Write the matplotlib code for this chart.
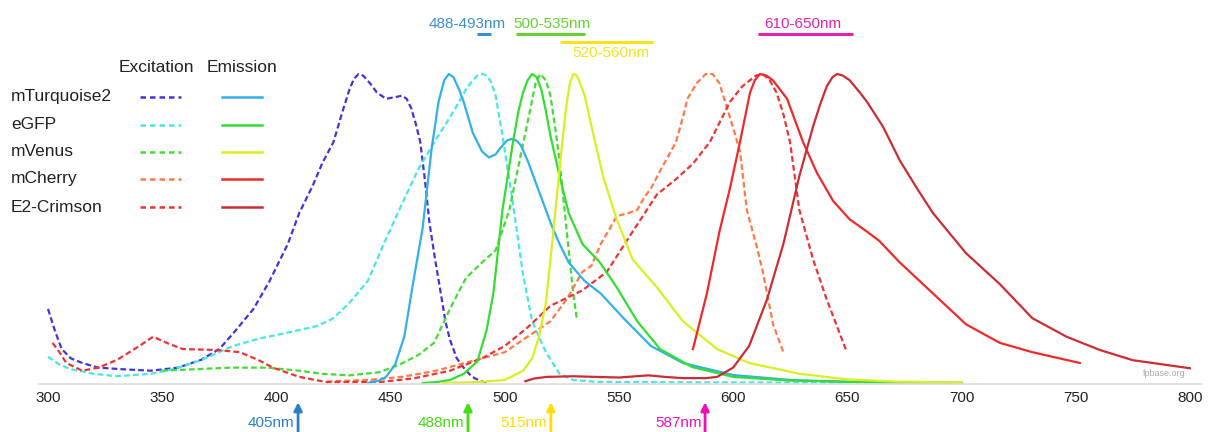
import matplotlib
matplotlib.use("Agg")
import matplotlib.pyplot as plt

plt.rcParams['font.family'] = ['Liberation Sans', 'DejaVu Sans']

# spectra (wavelength nm, normalised intensity)
mturq_ex_wl = [300, 303, 306, 310, 315, 322, 332, 345, 357, 367, 375, 381, 390, 397, 405, 410, 416, 420, 425,
               429, 432, 434, 436, 438, 441, 444, 448, 452, 455, 457, 459, 461, 463, 465, 467, 469.5, 472, 474,
               476, 479, 482, 485, 487, 490, 493]
mturq_ex = [0.24, 0.17, 0.11, 0.08, 0.065, 0.05, 0.045, 0.04, 0.05, 0.075, 0.11, 0.16, 0.24, 0.33, 0.45, 0.55,
            0.64, 0.71, 0.78, 0.88, 0.95, 0.985, 1.0, 0.995, 0.97, 0.94, 0.92, 0.925, 0.93, 0.92, 0.89, 0.84,
            0.78, 0.66, 0.52, 0.4, 0.29, 0.2, 0.14, 0.08, 0.05, 0.025, 0.015, 0.005, 0.0]
mturq_em_wl = [440, 445, 448, 452, 456, 460, 464, 468, 471, 473.5, 475.5, 477.5, 480, 482, 486, 490, 493, 496,
               498, 501, 503, 505, 507, 510, 515, 520, 524, 528, 535, 542, 552, 564, 578, 600, 625, 650, 700]
mturq_em = [0.0, 0.008, 0.02, 0.06, 0.15, 0.33, 0.5, 0.76, 0.91, 0.98, 1.0, 0.99, 0.95, 0.91, 0.81, 0.75, 0.73,
            0.74, 0.76, 0.785, 0.79, 0.785, 0.77, 0.72, 0.62, 0.52, 0.45, 0.39, 0.33, 0.29, 0.21, 0.12, 0.065,
            0.026, 0.01, 0.004, 0.0]

egfp_ex_wl = [300, 305, 310, 320, 330, 345, 355, 367, 381, 393, 403, 418, 425, 432, 440, 447, 455, 462, 470, 476,
              480, 483, 486, 488, 490, 492, 494, 496, 499, 503.6, 508, 512, 518, 524, 530, 540, 560, 600, 650, 700]
egfp_ex = [0.085, 0.06, 0.045, 0.03, 0.022, 0.03, 0.045, 0.074, 0.12, 0.145, 0.16, 0.185, 0.21, 0.26, 0.33, 0.45,
           0.58, 0.69, 0.79, 0.86, 0.91, 0.95, 0.98, 0.995, 1.0, 0.995, 0.975, 0.93, 0.8, 0.58, 0.35, 0.2, 0.1,
           0.03, 0.01, 0.004, 0.003, 0.002, 0.001, 0.0]
egfp_em_wl = [464, 470, 476, 482, 488, 492, 495, 499, 503.6, 506, 508, 510, 512, 514, 516, 518, 520, 524, 528, 534,
              541.7, 549, 558, 568, 582, 600, 625, 650, 700]
egfp_em = [0.0, 0.003, 0.01, 0.03, 0.07, 0.17, 0.29, 0.56, 0.78, 0.88, 0.94, 0.98, 1.0, 0.99, 0.95, 0.88, 0.8,
           0.67, 0.55, 0.45, 0.39, 0.31, 0.2, 0.11, 0.052, 0.02, 0.008, 0.004, 0.001]

venus_ex_wl = [350, 365, 380, 396, 410, 420, 432, 445, 454, 462, 469, 476, 483, 490, 496, 502, 506.5, 511, 513.5,
               515.5, 518, 520, 522, 524, 527, 530, 531.5]
venus_ex = [0.04, 0.045, 0.05, 0.05, 0.04, 0.03, 0.025, 0.035, 0.06, 0.09, 0.13, 0.24, 0.34, 0.39, 0.43, 0.56,
            0.72, 0.88, 0.97, 1.0, 0.98, 0.93, 0.83, 0.72, 0.5, 0.29, 0.21]
venus_em_wl = [473, 490, 500, 508, 512, 515, 518, 521, 523, 525.5, 527, 528.5, 530, 531.5, 533, 535, 538, 543,
               549, 556, 566.6, 578, 593, 607, 629, 650, 670, 700]
venus_em = [0.0, 0.004, 0.01, 0.04, 0.08, 0.15, 0.26, 0.47, 0.62, 0.8, 0.9, 0.97, 1.0, 0.995, 0.97, 0.93, 0.83,
            0.67, 0.53, 0.4, 0.31, 0.2, 0.11, 0.065, 0.03, 0.012, 0.005, 0.002]

cherry_ex_wl = [422, 440, 455, 470, 485, 500, 510, 520, 527, 534, 538, 542, 546, 549, 554, 558, 561, 564, 569, 575,
                578, 580, 584, 588, 591, 594, 598.6, 603, 606, 610.4, 613, 617.5, 622]
cherry_ex = [0.005, 0.01, 0.02, 0.04, 0.07, 0.1, 0.15, 0.2, 0.27, 0.36, 0.38, 0.45, 0.5, 0.54, 0.55, 0.56, 0.6,
             0.63, 0.7, 0.78, 0.86, 0.92, 0.97, 1.0, 1.0, 0.97, 0.86, 0.75, 0.56, 0.44, 0.36, 0.19, 0.1]
cherry_em_wl = [582.4, 588.5, 594, 598.6, 603, 607.4, 609.5, 611.7, 614.5, 617.4, 620.5, 623.6, 630.6, 636.7,
                643.7, 651, 658.6, 664, 673, 687.5, 702, 716.8, 731, 751.8]
cherry_em = [0.11, 0.29, 0.49, 0.63, 0.78, 0.94, 0.98, 1.0, 0.995, 0.98, 0.95, 0.92, 0.78, 0.68, 0.59, 0.53,
             0.49, 0.46, 0.39, 0.29, 0.19, 0.13, 0.1, 0.065]

crimson_ex_wl = [302, 305, 308, 315, 322, 330, 340, 346, 352, 359, 374, 384, 392, 398.5, 410, 422, 446, 460, 476,
                 490, 500, 510, 520, 534, 544.7, 556, 566.6, 575, 582.4, 589.8, 598.6, 604, 607.4, 610, 613, 616,
                 619, 622, 624.9, 629, 635, 641, 649.8]
crimson_ex = [0.13, 0.1, 0.065, 0.04, 0.05, 0.074, 0.12, 0.15, 0.13, 0.11, 0.107, 0.1, 0.075, 0.05, 0.02, 0.003,
              0.004, 0.015, 0.04, 0.08, 0.12, 0.18, 0.25, 0.3, 0.36, 0.49, 0.61, 0.66, 0.71, 0.78, 0.91, 0.96,
              0.98, 0.995, 1.0, 0.98, 0.94, 0.87, 0.78, 0.56, 0.4, 0.27, 0.1]
crimson_em_wl = [509, 513, 518.5, 530, 540, 550, 563, 570, 578, 588, 593, 600, 607, 614.8, 622, 629, 635, 638,
                 641, 643.5, 645.5, 648, 651, 655.5, 658.6, 665.6, 673, 680.5, 687.5, 702, 716.8, 731, 746, 760.6,
                 775, 800]
crimson_em = [0.006, 0.015, 0.02, 0.022, 0.02, 0.018, 0.025, 0.02, 0.016, 0.016, 0.02, 0.05, 0.12, 0.27, 0.45,
              0.67, 0.83, 0.9, 0.96, 0.99, 1.0, 0.995, 0.98, 0.94, 0.91, 0.83, 0.72, 0.63, 0.55, 0.42, 0.32, 0.21,
              0.15, 0.107, 0.074, 0.048]

proteins = ["mTurquoise2", "eGFP", "mVenus", "mCherry", "E2-Crimson"]
ex_colors = ["#4433dd", "#48e6e6", "#44dd33", "#ff7a48", "#ee3333"]
em_colors = ["#33b0e8", "#33dd33", "#d8f020", "#ee2a2a", "#cc2d33"]

# filter bands (nm) and laser lines
band_labels = ["488-493nm", "500-535nm", "520-560nm", "610-650nm"]
band_lo = [488, 505, 524, 611]
band_hi = [494, 535, 565, 652.5]
band_colors = ["#3a8ed0", "#66d133", "#f7e21c", "#e222b4"]
laser_labels = ["405nm", "488nm", "515nm", "587nm"]
laser_pos = [409.5, 483.9, 520.2, 587.7]
laser_colors = ["#2a80c8", "#44dd11", "#ffdd00", "#ee11bb"]

W, H = 1208, 432
fig = plt.figure(figsize=(W / 100, H / 100), dpi=100)
ax = fig.add_axes([39 / W, 48 / H, 1163 / W, 384 / H])

dash = (0, (2.6, 1.4))
ex_sets = [(mturq_ex_wl, mturq_ex), (egfp_ex_wl, egfp_ex), (venus_ex_wl, venus_ex),
           (cherry_ex_wl, cherry_ex), (crimson_ex_wl, crimson_ex)]
em_sets = [(mturq_em_wl, mturq_em), (egfp_em_wl, egfp_em), (venus_em_wl, venus_em),
           (cherry_em_wl, cherry_em), (crimson_em_wl, crimson_em)]
for (wl, v), c in zip(ex_sets, ex_colors):
    ax.plot(wl, v, color=c, lw=1.6, linestyle=dash)
for (wl, v), c in zip(em_sets, em_colors):
    ax.plot(wl, v, color=c, lw=1.6)

ax.set_xlim(296.06, 805.3)
ax.set_ylim(-0.003, 1.2395)
ax.set_xticks(range(300, 801, 50))
ax.tick_params(axis='x', length=0, pad=5, labelsize=11, labelcolor="#222222")
ax.set_yticks([])
for s in ["top", "left", "right"]:
    ax.spines[s].set_visible(False)
ax.spines["bottom"].set_color("#dddddd")
ax.spines["bottom"].set_linewidth(1.2)

ax.text(798, 0.03, "fpbase.org", fontsize=6.5, color="#aaaaaa", ha="right", va="center")

# filter bands on top
for i, lab in enumerate(band_labels):
    ly = 1.104 if i == 2 else 1.13
    ax.plot([band_lo[i], band_hi[i]], [ly, ly], color=band_colors[i], lw=2.2, solid_capstyle="butt",
            clip_on=False)
tx = [467, 551.5, 610.5, 802.5]
typ = [24, 24, 53, 24]
for i, lab in enumerate(band_labels):
    fig.text(tx[i] / W, 1 - typ[i] / H, lab, color=band_colors[i], fontsize=11, ha="center", va="center")

# laser arrows below the axis
for i, lab in enumerate(laser_labels):
    x = laser_pos[i]
    ax.annotate("", xy=(x, -0.062), xytext=(x, -0.16), xycoords="data", textcoords="data",
                arrowprops=dict(arrowstyle="-|>", color=laser_colors[i], lw=2, mutation_scale=12,
                                shrinkA=0, shrinkB=0), annotation_clip=False)
    ax.text(x - 1.6, -0.128, lab, color=laser_colors[i], fontsize=11, ha="right", va="center", clip_on=False)

# legend drawn by hand
fig.text(156 / W, 1 - 68 / H, "Excitation", fontsize=12.5, ha="center", va="center", color="#222222")
fig.text(242 / W, 1 - 68 / H, "Emission", fontsize=12.5, ha="center", va="center", color="#222222")
row_y = [97, 124.5, 152, 179, 207]
for i, name in enumerate(proteins):
    y = 1 - row_y[i] / H
    fig.text(11 / W, y, name, fontsize=12.5, ha="left", va="center", color="#222222")
    fig.add_artist(plt.Line2D([140 / W, 181 / W], [y, y], color=ex_colors[i], lw=1.8,
                              linestyle=(0, (2.2, 1.6)), transform=fig.transFigure))
    fig.add_artist(plt.Line2D([222 / W, 262 / W], [y, y], color=em_colors[i], lw=1.8,
                              transform=fig.transFigure))

fig.savefig("out.png", dpi=100)
